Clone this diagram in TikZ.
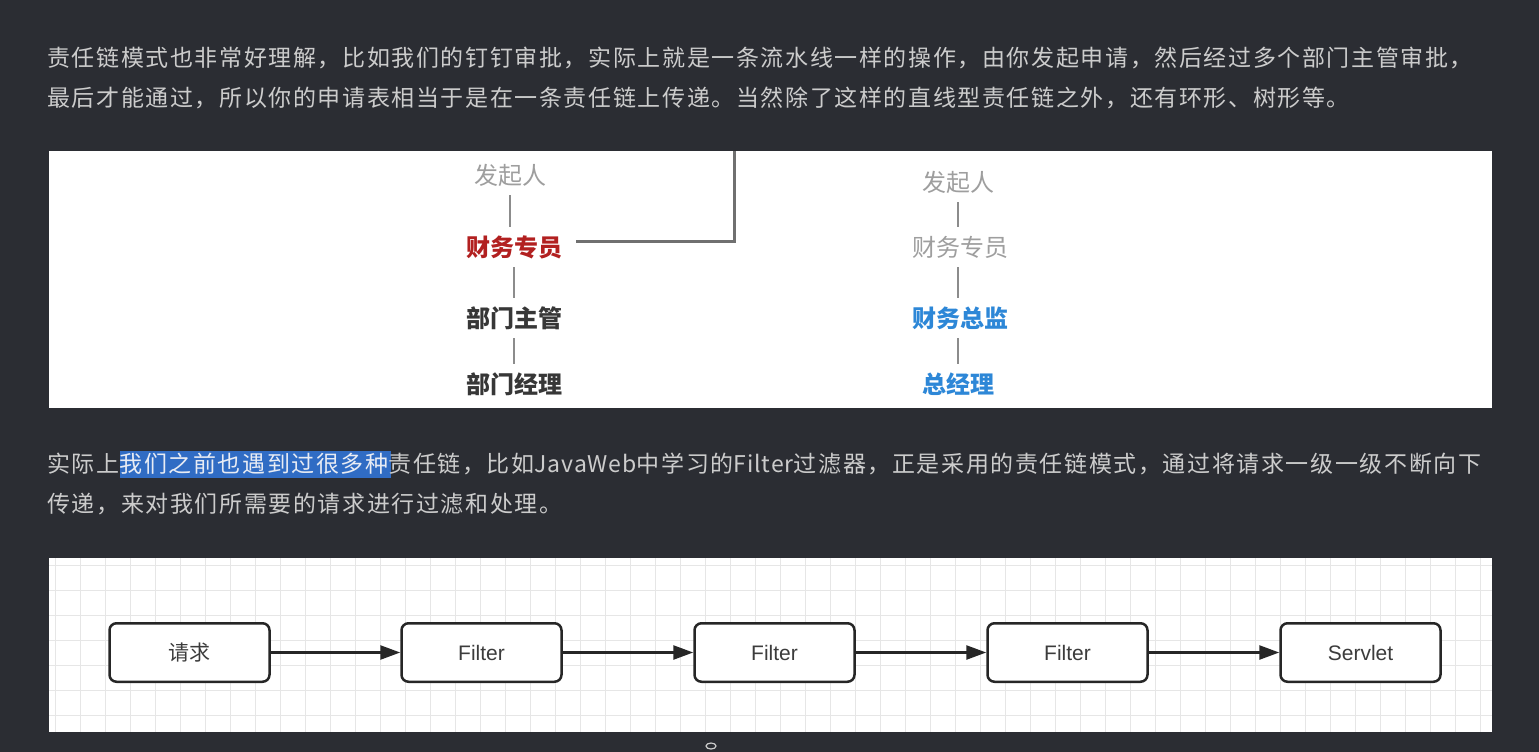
\documentclass[tikz,border=0pt]{standalone}
\usepackage{fontspec}
\setmainfont{Liberation Sans}
\newfontfamily\cjk{Noto Sans CJK SC}
\newfontfamily\cjksp[LetterSpace=7]{Noto Sans CJK SC}
\newfontfamily\cjklat[LetterSpace=4]{Noto Sans CJK SC}
\usetikzlibrary{arrows.meta}
\definecolor{bg}{RGB}{43,45,51}
\definecolor{txtc}{RGB}{204,204,204}
\definecolor{hl}{RGB}{48,108,196}
\definecolor{hltxt}{RGB}{232,236,244}
\definecolor{pgray}{RGB}{158,158,158}
\definecolor{pred}{RGB}{178,32,32}
\definecolor{pdark}{RGB}{55,55,55}
\definecolor{pblue}{RGB}{45,135,215}
\definecolor{conn}{RGB}{140,140,140}
\definecolor{lconn}{RGB}{112,112,112}
\definecolor{gridc}{RGB}{230,230,230}
\definecolor{boxc}{RGB}{38,38,38}
\definecolor{boxt}{RGB}{60,60,60}
\newcommand{\lat}[1]{{\cjklat\fontsize{23pt}{27pt}\selectfont #1}}
\tikzset{
  ptxt/.style={anchor=west, inner sep=0pt, text height=19.3pt, text depth=1.6pt, text=txtc,
    font=\cjksp\fontsize{23pt}{27pt}\selectfont},
  pn/.style={inner sep=0pt, text height=29pt, text depth=11pt,
    font=\cjk\fontsize{24pt}{28pt}\selectfont},
  pnb/.style={pn, font=\cjk\bfseries\fontsize{24pt}{28pt}\selectfont},
  vconn/.style={draw=conn, line width=1.5pt},
  lconnst/.style={draw=lconn, line width=3pt},
  fbox/.style={draw=boxc, line width=2.5pt, rounded corners=7pt, fill=white,
    minimum width=160pt, minimum height=58.5pt, inner sep=0pt, text=boxt,
    font=\fontsize{21pt}{25pt}\selectfont},
  arr/.style={draw=boxc, line width=2.5pt, -{Triangle[length=20pt,width=14pt]}},
}
\begin{document}
\begin{tikzpicture}[x=1pt,y=-1pt]
\fill[bg] (0,0) rectangle (1539,752);
\useasboundingbox (0,0) rectangle (1539,752);

% top paragraph
\node[ptxt] (t1) at (47,57.5) {责任链模式也非常好理解，比如我们的钉钉审批，实际上就是一条流水线一样的操作，由你发起申请，然后经过多个部门主管审批，};
\node[ptxt] (t2) at (47,98) {最后才能通过，所以你的申请表相当于是在一条责任链上传递。当然除了这样的直线型责任链之外，还有环形、树形等。};

% panel 1
\fill[white] (49,151) rectangle (1492,408);
\node[pn, text=pgray] (l1) at (510,175) {发起人};
\node[pnb, text=pred] (l2) at (514,247) {财务专员};
\node[pnb, text=pdark] (l3) at (514,318) {部门主管};
\node[pnb, text=pdark] (l4) at (514,384) {部门经理};
\draw[vconn] (l1.south) -- (l1.south |- l2.north);
\draw[vconn] (l2.south) -- (l3.north);
\draw[vconn] (l3.south) -- (l4.north);
\coordinate (ltop) at (734.5,151);
\draw[lconnst] ([xshift=14pt,yshift=5.5pt]l2.east) -| (ltop);

\node[pn, text=pgray] (r1) at (958,182) {发起人};
\node[pn, text=pgray] (r2) at (960,247) {财务专员};
\node[pnb, text=pblue] (r3) at (960,318) {财务总监};
\node[pnb, text=pblue] (r4) at (958,384) {总经理};
\draw[vconn] (r1.south) -- (r1.south |- r2.north);
\draw[vconn] (r1.south |- r2.south) -- (r1.south |- r3.north);
\draw[vconn] (r1.south |- r3.south) -- (r4.north);

% middle paragraph
\fill[hl] (120,451) rectangle (391,478);
\node[ptxt] (m1) at (47,464) {实际上{\color{hltxt}我们之前也遇到过很多种}责任链，比如\lat{JavaWeb}中学习的\lat{Filter}过滤器，正是采用的责任链模式，通过将请求一级一级不断向下};
\node[ptxt] (m2) at (47,504) {传递，来对我们所需要的请求进行过滤和处理。};

% panel 2 with grid
\fill[white] (49,558) rectangle (1492,732);
\begin{scope}
\clip (49,558) rectangle (1492,732);
\foreach \i in {0,...,57} \draw[gridc, line width=1pt] (55.7+25*\i,558) -- ++(0,174);
\foreach \j in {0,...,6} \draw[gridc, line width=1pt] (49,565+25*\j) -- ++(1443,0);
\end{scope}

\node[fbox, font=\cjk\fontsize{21pt}{25pt}\selectfont] (b1) at (189.5,652.5) {请求};
\node[fbox] (b2) at (481.5,652.5) {Filter};
\node[fbox] (b3) at (774.5,652.5) {Filter};
\node[fbox] (b4) at (1067.5,652.5) {Filter};
\node[fbox] (b5) at (1360.5,652.5) {Servlet};
\draw[arr] (b1) -- (b2);
\draw[arr] (b2) -- (b3);
\draw[arr] (b3) -- (b4);
\draw[arr] (b4) -- (b5);

% small cursor mark
\draw[txtc, line width=1.2pt] (711,746) ellipse (5 and 3);
\end{tikzpicture}
\end{document}
